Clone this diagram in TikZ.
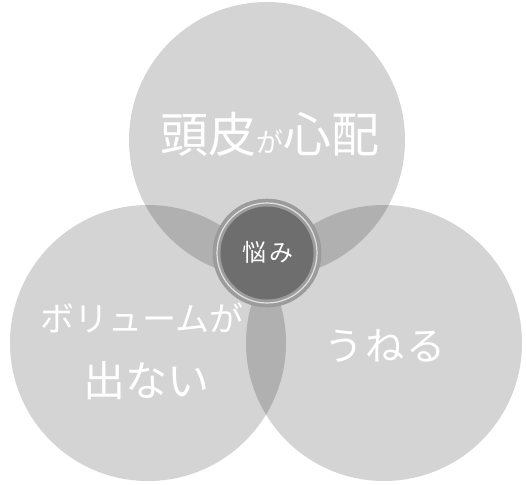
\documentclass[tikz,border=0pt]{standalone}
\usepackage{fontspec}
\newfontfamily\jp{Noto Sans CJK JP}
\definecolor{ringgray}{HTML}{9C9C9C}
\definecolor{coregray}{HTML}{6E6E6E}
\definecolor{ringline}{HTML}{E2E2E2}
\tikzset{
  bigcircle/.style={circle, minimum size=276pt, inner sep=0pt, fill=black, fill opacity=0.17},
  label/.style={text=white, font=\jp, inner sep=0pt, anchor=center},
}
\begin{document}
\begin{tikzpicture}[x=1pt,y=-1pt]
\useasboundingbox[fill=white] (0,0) rectangle (526,484);
\node[bigcircle] (top) at (267,140) {};
\node[bigcircle] (left) at (148,343) {};
\node[bigcircle] (right) at (384,343) {};
\node[label] (t1) at (270,134) {\fontsize{48pt}{50pt}\selectfont 頭皮\fontsize{27pt}{30pt}\selectfont が\fontsize{48pt}{50pt}\selectfont 心配};
\node[label] (t2) at (142,318) {\fontsize{34pt}{36pt}\selectfont ボリュームが};
\node[label] (t3) at (146,381) {\fontsize{42pt}{44pt}\selectfont 出ない};
\node[label] (t4) at (385,346) {\fontsize{39pt}{40pt}\selectfont う\hspace{2pt}ね\hspace{2pt}る};
\node[circle, minimum size=108pt, inner sep=0pt, fill=ringgray, draw=gray!80, line width=0.6pt] (ring) at (267,253) {};
\node[circle, minimum size=100pt, inner sep=0pt, draw=ringline, line width=1.2pt] (ringl) at (ring.center) {};
\node[circle, minimum size=93pt, inner sep=0pt, fill=coregray] (core) at (ring.center) {};
\node[label] (c) at (268,252) {\fontsize{24pt}{26pt}\selectfont 悩\hspace{3pt}み};
\end{tikzpicture}
\end{document}
